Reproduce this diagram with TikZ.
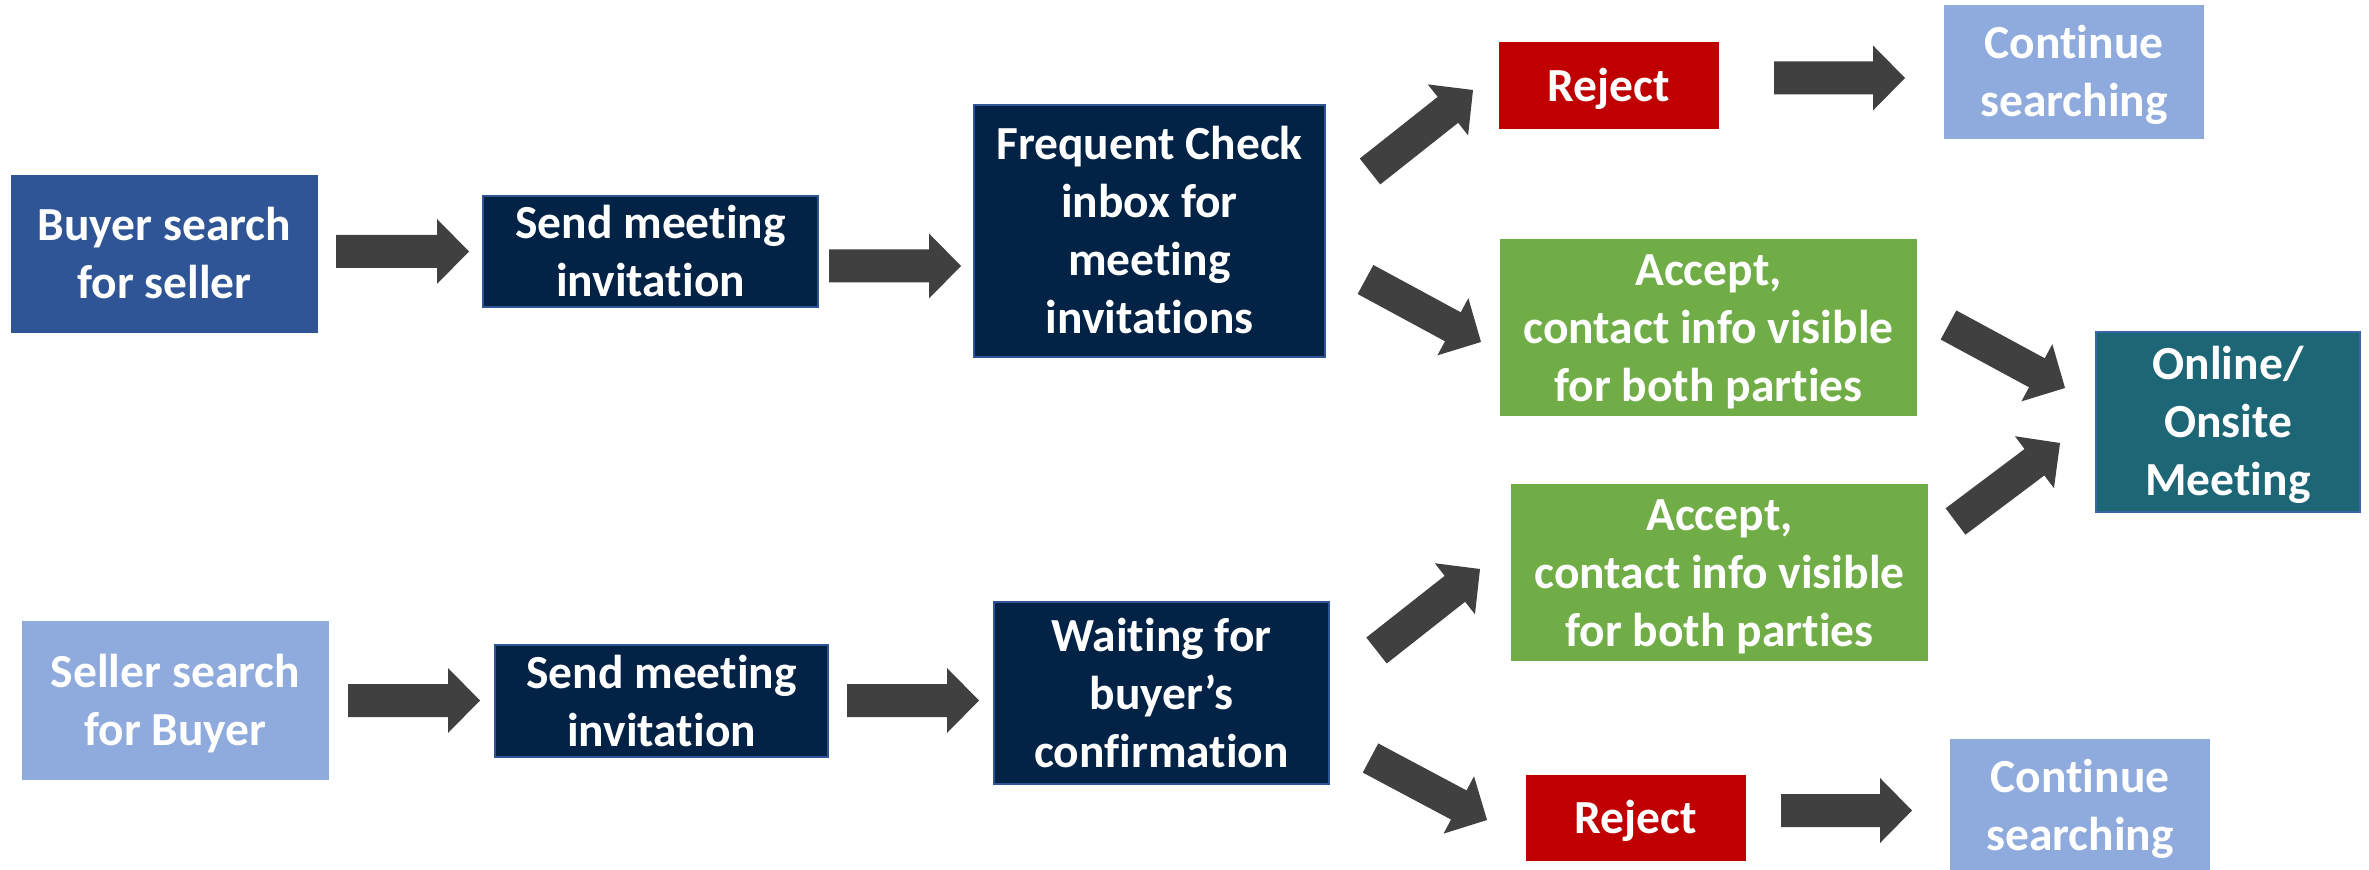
\documentclass[tikz,border=0pt]{standalone}
\usepackage{fontspec}
\setmainfont{Carlito}[Ligatures=NoCommon]
\usetikzlibrary{calc}
\definecolor{navy}{HTML}{022246}
\definecolor{navyedge}{HTML}{2F5597}
\definecolor{buyerblue}{HTML}{2F5597}
\definecolor{lightblue}{HTML}{8FAADC}
\definecolor{rejred}{HTML}{C00000}
\definecolor{accgreen}{HTML}{70AD47}
\definecolor{teal}{HTML}{1D6675}
\definecolor{tealedge}{HTML}{3A66A8}
\definecolor{arrowfill}{HTML}{404040}
\newcommand\ls{\rule[-4pt]{0pt}{24pt}}
\newcommand\barrow[2]{%
  \coordinate (#1-h) at ($(#2)!16pt!(#1)$);
  \fill[arrowfill] ($(#1)!8.25pt!90:(#2)$) -- ($(#1-h)!8.25pt!90:(#2)$) -- ($(#1-h)!16.25pt!90:(#2)$) -- (#2) -- ($(#1-h)!16.25pt!-90:(#2)$) -- ($(#1-h)!8.25pt!-90:(#2)$) -- ($(#1)!8.25pt!-90:(#2)$) -- cycle;}
\begin{document}
\begin{tikzpicture}[x=0.5pt,y=-0.5pt,
  box/.style={rectangle, inner sep=0pt, align=center, text=white,
    font=\bfseries\fontsize{23.75pt}{29pt}\selectfont},
  navybox/.style={box, fill=navy, draw=navyedge, line width=0.75pt}]
\useasboundingbox (0,0) rectangle (2369,870);
\fill[white] (0,0) rectangle (2369,870);
% nodes
\node[box, fill=buyerblue, minimum width=153.5pt, minimum height=79pt] (buyer) at (164.5,254) {\ls Buyer search\\for seller\ls};
\node[navybox, minimum width=167.5pt, minimum height=55.5pt] (send1) at (650.5,251.5) {\ls Send meeting\\invitation\ls};
\node[navybox, minimum width=175.5pt, minimum height=126pt] (freq) at (1149.5,231) {\ls Frequent Check\\inbox for\\meeting\\invitations\ls};
\node[box, fill=rejred, minimum width=110pt, minimum height=43.5pt] (rej1) at (1609,85.5) {\ls Reject};
\node[box, fill=lightblue, minimum width=130pt, minimum height=67pt] (cont1) at (2074,72) {\ls Continue\\searching\ls};
\node[box, fill=accgreen, minimum width=208.5pt, minimum height=88.5pt] (acc1) at (1708.5,327.5) {\ls Accept,\\contact info visible\\for both parties\ls};
\node[box, fill=teal, draw=tealedge, line width=0.75pt, minimum width=132pt, minimum height=90pt] (online) at (2228,422) {\ls Online/\\Onsite\\Meeting\ls};
\node[box, fill=lightblue, minimum width=153.5pt, minimum height=79.5pt] (seller) at (175.5,700.5) {\ls Seller search\\for Buyer\ls};
\node[navybox, minimum width=166.5pt, minimum height=56pt] (send2) at (661.5,701) {\ls Send meeting\\invitation\ls};
\node[navybox, minimum width=167.5pt, minimum height=91pt] (wait) at (1161.5,693) {\ls Waiting for\\buyer’s\\confirmation\ls};
\node[box, fill=accgreen, minimum width=208.5pt, minimum height=88.5pt] (acc2) at (1719.5,572.5) {\ls Accept,\\contact info visible\\for both parties\ls};
\node[box, fill=rejred, minimum width=110pt, minimum height=43pt] (rej2) at (1636,818) {\ls Reject};
\node[box, fill=lightblue, minimum width=130pt, minimum height=67pt] (cont2) at (2080,806) {\ls Continue\\searching\ls};
% arrow end points
\coordinate (a1t) at (336,251.5);  \coordinate (a1p) at (469,251.5);
\coordinate (a2t) at (829,266);    \coordinate (a2p) at (961,266);
\coordinate (a3t) at (1774,78);    \coordinate (a3p) at (1905,78);
\coordinate (a4t) at (348,700.5);  \coordinate (a4p) at (480,700.5);
\coordinate (a5t) at (847,700.5);  \coordinate (a5p) at (979,700.5);
\coordinate (a6t) at (1781,810.5); \coordinate (a6p) at (1912,810.5);
\coordinate (d1t) at (1370,171.5); \coordinate (d1p) at (1473,90);
\coordinate (d2t) at (1365.5,279.5); \coordinate (d2p) at (1481,342);
\coordinate (d3t) at (1948.5,325); \coordinate (d3p) at (2065,388);
\coordinate (d4t) at (1376.5,650.5); \coordinate (d4p) at (1480,569);
\coordinate (d5t) at (1370.5,758); \coordinate (d5p) at (1487,820);
\coordinate (d6t) at (1955.5,521.5); \coordinate (d6p) at (2060,443);
% arrows
\barrow{a1t}{a1p}
\barrow{a2t}{a2p}
\barrow{a3t}{a3p}
\barrow{a4t}{a4p}
\barrow{a5t}{a5p}
\barrow{a6t}{a6p}
\barrow{d1t}{d1p}
\barrow{d2t}{d2p}
\barrow{d3t}{d3p}
\barrow{d4t}{d4p}
\barrow{d5t}{d5p}
\barrow{d6t}{d6p}
\end{tikzpicture}
\end{document}
